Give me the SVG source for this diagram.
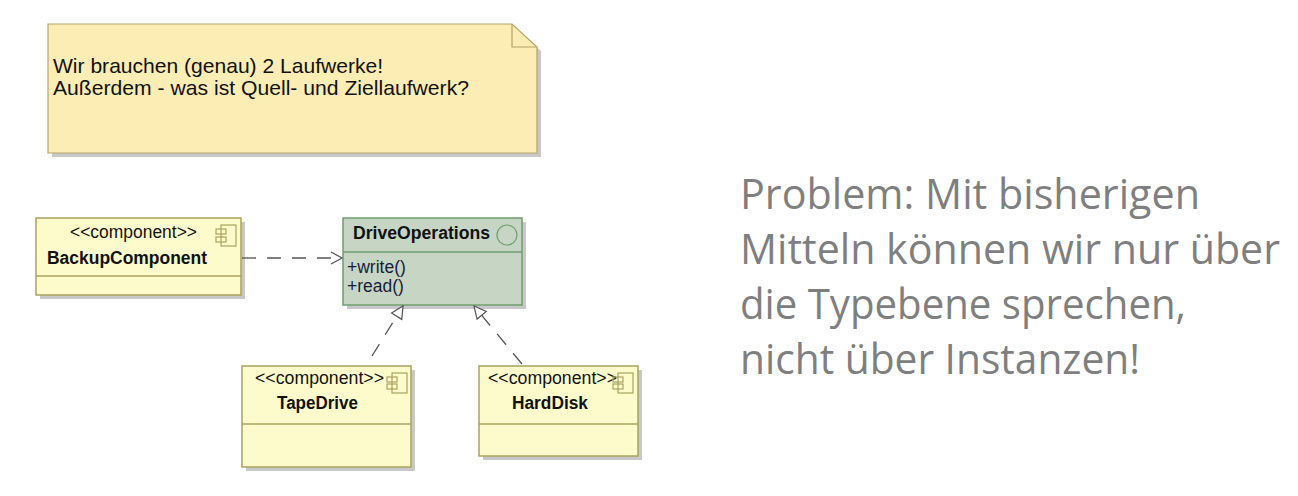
<svg xmlns="http://www.w3.org/2000/svg" width="1298" height="496" viewBox="0 0 1298 496">
<style>
.shadow{fill:#c8c8c8}
.comp{fill:#fdfbcb;stroke:#a9a35f;stroke-width:1.5}
.note{fill:#fbedb4;stroke:#b3a36a;stroke-width:1.2}
.iface{fill:#c7d6c4;stroke:#6f9e6f;stroke-width:1.5}
.t{font-family:"Liberation Sans",Arial,sans-serif;font-size:17.5px;fill:#111}
.n{font-family:"Liberation Sans",Arial,sans-serif;font-size:21px;fill:#111}
.b{font-family:"Liberation Sans",Arial,sans-serif;font-size:17.5px;font-weight:bold;fill:#111}
.ic{fill:none;stroke:#a9a35f;stroke-width:1.2}
.big{font-family:"Open Sans","Noto Sans",sans-serif;font-size:42px;fill:#7f7f7f}
.dash{fill:none;stroke:#555;stroke-width:1.3;stroke-dasharray:14 11}
</style>
<defs>
<marker id="open" markerWidth="14" markerHeight="14" refX="12" refY="7" orient="auto" markerUnits="userSpaceOnUse">
<path d="M1,1 L12,7 L1,13" fill="none" stroke="#555" stroke-width="1.3"/>
</marker>
<marker id="tri" markerWidth="16" markerHeight="16" refX="14" refY="8" orient="auto" markerUnits="userSpaceOnUse">
<path d="M2,2 L14,8 L2,14 Z" fill="#fff" stroke="#555" stroke-width="1.2"/>
</marker>
</defs>
<rect width="1298" height="496" fill="#fff"/>

<g id="note">
<path class="shadow" d="M52,28 L516,28 L541,51 L541,157 L52,157 Z"/>
<path class="note" d="M48,24 L512,24 L537,47 L537,153 L48,153 Z"/>
<path d="M512,24 L512,47 L537,47" fill="none" stroke="#b3a36a" stroke-width="1.2"/>
<text class="n" x="53" y="73" textLength="330" lengthAdjust="spacingAndGlyphs">Wir brauchen (genau) 2 Laufwerke!</text>
<text class="n" x="53" y="95" textLength="416" lengthAdjust="spacingAndGlyphs">Außerdem - was ist Quell- und Ziellaufwerk?</text>
</g>

<g id="backup">
<rect class="shadow" x="40" y="222" width="205" height="77"/>
<rect class="comp" x="36" y="218" width="205" height="77"/>
<line class="comp" x1="36" y1="276" x2="241" y2="276"/>
<text class="t" x="70" y="238" textLength="127" lengthAdjust="spacingAndGlyphs">&lt;&lt;component&gt;&gt;</text>
<text class="b" x="47" y="264" textLength="160" lengthAdjust="spacingAndGlyphs">BackupComponent</text>
<rect class="ic" x="221" y="225" width="15" height="21"/>
<rect class="ic" x="216" y="229" width="10" height="5" fill="#fdfbcb"/>
<rect class="ic" x="216" y="237" width="10" height="5" fill="#fdfbcb"/>
</g>

<g id="driveops">
<rect class="shadow" x="347" y="222" width="179" height="87"/>
<rect class="iface" x="343" y="218" width="179" height="87"/>
<line class="iface" x1="343" y1="252" x2="522" y2="252"/>
<text class="b" x="353" y="239" textLength="137" lengthAdjust="spacingAndGlyphs">DriveOperations</text>
<circle cx="507" cy="235" r="10" fill="none" stroke="#6f9e6f" stroke-width="1.2"/>
<text class="t" x="347" y="273" style="fill:#1a1a40">+write()</text>
<text class="t" x="347" y="292" style="fill:#1a1a40">+read()</text>
</g>

<g id="tapedrive">
<rect class="shadow" x="246" y="370" width="169" height="101"/>
<rect class="comp" x="242" y="366" width="169" height="101"/>
<line class="comp" x1="242" y1="424" x2="411" y2="424"/>
<text class="t" x="255" y="384" textLength="129" lengthAdjust="spacingAndGlyphs">&lt;&lt;component&gt;&gt;</text>
<text class="b" x="277" y="409" textLength="81" lengthAdjust="spacingAndGlyphs">TapeDrive</text>
<rect class="ic" x="392" y="373" width="15" height="20"/>
<rect class="ic" x="387" y="377" width="10" height="5" fill="#fdfbcb"/>
<rect class="ic" x="387" y="384" width="10" height="5" fill="#fdfbcb"/>
</g>

<g id="harddisk">
<rect class="shadow" x="483" y="370" width="159" height="90"/>
<rect class="comp" x="479" y="366" width="159" height="90"/>
<line class="comp" x1="479" y1="424" x2="638" y2="424"/>
<text class="t" x="488" y="384" textLength="129" lengthAdjust="spacingAndGlyphs">&lt;&lt;component&gt;&gt;</text>
<text class="b" x="512" y="409" textLength="76" lengthAdjust="spacingAndGlyphs">HardDisk</text>
<rect class="ic" x="618" y="373" width="15" height="20"/>
<rect class="ic" x="613" y="377" width="10" height="5" fill="#fdfbcb"/>
<rect class="ic" x="613" y="384" width="10" height="5" fill="#fdfbcb"/>
</g>

<g id="connectors">
<line class="dash" x1="242" y1="258" x2="342" y2="258" marker-end="url(#open)" stroke-dasharray="0 14 15 12 15 12 15 100"/>
<line class="dash" x1="372" y1="356" x2="403" y2="306" marker-end="url(#tri)"/>
<line class="dash" x1="522" y1="364" x2="474" y2="306" marker-end="url(#tri)"/>
</g>

<g id="problem">
<text class="big" x="740" y="209" textLength="460" lengthAdjust="spacingAndGlyphs">Problem: Mit bisherigen</text>
<text class="big" x="740" y="264" textLength="540" lengthAdjust="spacingAndGlyphs">Mitteln können wir nur über</text>
<text class="big" x="740" y="319" textLength="446" lengthAdjust="spacingAndGlyphs">die Typebene sprechen,</text>
<text class="big" x="740" y="374" textLength="400" lengthAdjust="spacingAndGlyphs">nicht über Instanzen!</text>
</g>
</svg>
